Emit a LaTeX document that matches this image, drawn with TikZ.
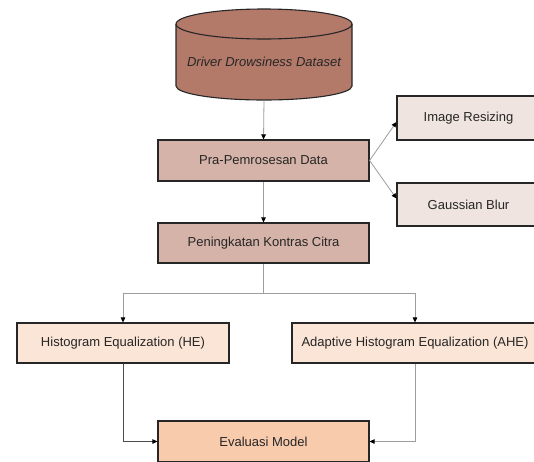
\documentclass[tikz,border=0pt]{standalone}
\usepackage{fontspec}
\setmainfont{Liberation Sans}
\usetikzlibrary{arrows.meta,calc}
\definecolor{cylfill}{HTML}{B37A6A}
\definecolor{prefill}{HTML}{D5B3A8}
\definecolor{subfill}{HTML}{EFE4DF}
\definecolor{hefill}{HTML}{FBE5D6}
\definecolor{evfill}{HTML}{F8CBAD}
\definecolor{txt}{HTML}{262626}
\begin{document}
\begin{tikzpicture}[x=1pt,y=-1pt,
  box/.style={draw=black!85,line width=1.1pt,inner sep=0pt,
    font=\fontsize{13}{15}\selectfont,text=txt},
  conn/.style={draw=black!38,line width=0.8pt,
    -{Triangle[length=5pt,width=4.5pt,color=black]}},
  connd/.style={conn,draw=black!70}]
\useasboundingbox (0,0) rectangle (534,461);
% cylinder
\fill[white] (0,0) rectangle (534,461);
\filldraw[fill=cylfill,draw=black!85,line width=1.1pt]
  (176,24) -- (176,86) arc[start angle=180,end angle=360,x radius=88pt,y radius=14pt]
  -- (352,24) arc[start angle=0,end angle=180,x radius=88pt,y radius=15pt] -- cycle;
\draw[black!85,line width=1.1pt]
  (176,24) arc[start angle=180,end angle=360,x radius=88pt,y radius=15pt];
\node[font=\fontsize{13}{15}\selectfont\itshape,text=txt] (ds) at (264,62) {Driver Drowsiness Dataset};
\coordinate (dsb) at (264,100);
% boxes
\node[box,fill=prefill,minimum width=211pt,minimum height=41pt] (pra) at (263.5,160.5) {Pra-Pemrosesan Data};
\node[box,fill=prefill,minimum width=211pt,minimum height=40pt] (pen) at (263.5,243) {Peningkatan Kontras Citra};
\node[box,fill=subfill,minimum width=143pt,minimum height=44pt] (ir) at (468.5,118) {Image Resizing};
\node[box,fill=subfill,minimum width=143pt,minimum height=43pt] (gb) at (468.5,204.5) {Gaussian Blur};
\node[box,fill=hefill,minimum width=212pt,minimum height=40pt] (he) at (123,343) {Histogram Equalization (HE)};
\node[box,fill=hefill,minimum width=246pt,minimum height=40pt] (ahe) at (415,343) {Adaptive Histogram Equalization (AHE)};
\node[box,fill=evfill,minimum width=211pt,minimum height=41pt] (ev) at (263.5,441.5) {Evaluasi Model};
% connectors
\draw[conn] (dsb) -- (pra.north);
\draw[conn] (pra.east) -- ($(ir.west)+(0,4)$);
\draw[conn] (pra.east) -- ($(gb.west)+(0,-6)$);
\draw[conn] (pra.south) -- (pen.north);
\coordinate (split) at ($(pen.south)+(0,30)$);
\draw[conn] (pen.south) -- (split) -| (he.north);
\draw[conn] (split) -| (ahe.north);
\draw[connd] (he.south) |- (ev.west);
\draw[conn] (ahe.south) |- (ev.east);
\end{tikzpicture}
\end{document}
